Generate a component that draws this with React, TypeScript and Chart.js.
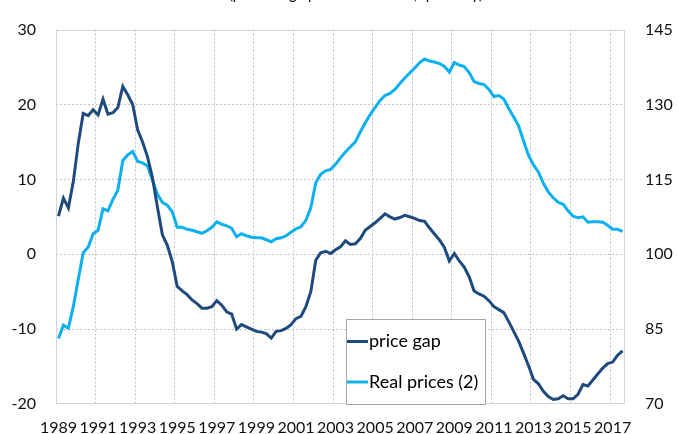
import React, { useEffect, useRef } from 'react';
import { Chart, registerables } from 'chart.js';

Chart.register(...registerables);

const startYear = 1989;
const quarterCount = 115;
const categories: string[] = Array.from({ length: quarterCount }, (_, i) => `${startYear + Math.floor(i / 4)}Q${(i % 4) + 1}`);
const xTickLabels = ['1989', '1991', '1993', '1995', '1997', '1999', '2001', '2003', '2005', '2007', '2009', '2011', '2013', '2015', '2017'];
const seriesNames = ['price gap', 'Real prices (2)'];
const titleText = '(percentage points and index, quarterly)';

// price gap (left axis)
const priceGap = [
  5.1, 7.5, 6.2, 9.7, 14.8, 18.8, 18.5, 19.3, 18.6, 20.7,
  18.7, 18.9, 19.6, 22.4, 21.3, 20.0, 16.6, 15.0, 13.0, 10.2,
  6.3, 2.6, 1.2, -1.0, -4.3, -4.9, -5.4, -6.1, -6.6, -7.2,
  -7.2, -7.0, -6.2, -6.8, -7.7, -8.0, -10.0, -9.4, -9.7, -10.0,
  -10.3, -10.4, -10.6, -11.2, -10.3, -10.2, -9.9, -9.4, -8.6, -8.3,
  -7.0, -5.0, -0.8, 0.2, 0.4, 0.1, 0.6, 1.0, 1.8, 1.3,
  1.4, 2.1, 3.2, 3.7, 4.2, 4.8, 5.4, 5.0, 4.7, 4.9,
  5.2, 5.0, 4.8, 4.5, 4.4, 3.5, 2.7, 1.9, 0.9, -0.9,
  0.1, -0.9, -1.7, -3.0, -4.9, -5.3, -5.6, -6.2, -7.0, -7.4,
  -7.8, -9.0, -10.3, -11.6, -13.2, -14.9, -16.7, -17.3, -18.3, -19.0,
  -19.4, -19.3, -18.9, -19.3, -19.3, -18.7, -17.4, -17.6, -16.8, -16.0,
  -15.2, -14.6, -14.4, -13.5, -12.9,
];

// Real prices (right axis)
const realPrices = [
  83.1, 85.8, 85.2, 89.5, 95.0, 100.3, 101.4, 104.1, 104.8, 109.1,
  108.7, 111.0, 112.8, 118.8, 119.9, 120.6, 118.6, 118.3, 117.7, 114.8,
  112.0, 110.4, 109.8, 108.5, 105.4, 105.4, 105.0, 104.8, 104.5, 104.2,
  104.7, 105.4, 106.5, 106.0, 105.7, 105.2, 103.5, 104.1, 103.7, 103.4,
  103.3, 103.3, 102.9, 102.5, 103.1, 103.3, 103.7, 104.4, 105.1, 105.5,
  106.8, 109.3, 114.3, 116.0, 116.7, 117.0, 118.0, 119.3, 120.5, 121.5,
  122.5, 124.5, 126.3, 128.0, 129.4, 130.8, 131.8, 132.2, 133.0, 134.2,
  135.3, 136.3, 137.3, 138.4, 139.1, 138.7, 138.5, 138.2, 137.6, 136.5,
  138.4, 137.9, 137.6, 136.4, 134.6, 134.2, 134.0, 133.0, 131.6, 131.8,
  131.1, 129.2, 127.5, 125.7, 122.7, 119.8, 117.9, 116.5, 114.2, 112.5,
  111.3, 110.4, 110.0, 108.7, 107.6, 107.3, 107.5, 106.4, 106.5, 106.5,
  106.4, 105.8, 105.0, 105.0, 104.6,
];

const leftMin = -20, leftMax = 30, leftStep = 10;
const rightMin = 70, rightMax = 145, rightStep = 15;

const darkBlue = '#1f4a7e';
const lightBlue = '#0db0ef';
const FONT = 'Lato, "Open Sans", sans-serif';

const framePlugin = {
  id: 'frame',
  beforeDatasetsDraw(chart: any) {
    const { ctx, chartArea: a } = chart;
    ctx.save();
    ctx.strokeStyle = '#d4d4d4';
    ctx.lineWidth = 1;
    ctx.strokeRect(Math.round(a.left) + 0.5, Math.round(a.top) + 0.5, Math.round(a.right - a.left) - 1, Math.round(a.bottom - a.top) - 1);
    ctx.restore();
  },
};

const titlePlugin = {
  id: 'cutTitle',
  afterDraw(chart: any) {
    const { ctx } = chart;
    ctx.save();
    ctx.font = `18px ${FONT}`;
    ctx.fillStyle = '#000';
    ctx.textAlign = 'center';
    ctx.textBaseline = 'alphabetic';
    ctx.fillText(titleText, 356, -1, 254);
    ctx.restore();
  },
};

const legendPlugin = {
  id: 'boxLegend',
  afterDatasetsDraw(chart: any) {
    const { ctx, chartArea: a } = chart;
    const x = Math.round(a.left + 290);
    const y = Math.round(a.top + 289);
    const w = 140, h = 86;
    ctx.save();
    ctx.fillStyle = '#ffffff';
    ctx.fillRect(x, y, w, h);
    ctx.strokeStyle = '#a6a6a6';
    ctx.lineWidth = 1;
    ctx.strokeRect(x + 0.5, y + 0.5, w - 1, h - 1);
    const rows = [22.5, 63];
    chart.data.datasets.forEach((ds: any, i: number) => {
      const cy = y + rows[i];
      ctx.strokeStyle = ds.borderColor;
      ctx.lineWidth = 3;
      ctx.beginPath();
      ctx.moveTo(x + 1, cy);
      ctx.lineTo(x + 22, cy);
      ctx.stroke();
      ctx.fillStyle = '#000';
      ctx.font = `18px ${FONT}`;
      ctx.textAlign = 'left';
      ctx.textBaseline = 'middle';
      ctx.fillText(ds.label, x + 23, cy);
    });
    ctx.restore();
  },
};

export default function App() {
  const ref = useRef<HTMLCanvasElement | null>(null);
  useEffect(() => {
    if (!ref.current) return;
    const chart = new Chart(ref.current, {
      type: 'line',
      data: {
        labels: categories,
        datasets: [
          {
            label: seriesNames[0],
            data: priceGap,
            borderColor: darkBlue,
            backgroundColor: darkBlue,
            borderWidth: 3,
            pointRadius: 0,
            tension: 0,
            yAxisID: 'y',
          },
          {
            label: seriesNames[1],
            data: realPrices,
            borderColor: lightBlue,
            backgroundColor: lightBlue,
            borderWidth: 3,
            pointRadius: 0,
            tension: 0,
            yAxisID: 'y1',
          },
        ],
      },
      options: {
        responsive: false,
        animation: false,
        layout: { padding: { top: 19, left: 0, right: 0, bottom: 0 } },
        plugins: { legend: { display: false }, tooltip: { enabled: false }, title: { display: false } },
        scales: {
          x: {
            type: 'category',
            offset: true,
            grid: {
              offset: true,
              drawTicks: false,
              lineWidth: 1,
              color: (c: any) => (c.index % 8 === 0 && c.index > 0 && c.index < quarterCount ? '#c4c4c4' : 'rgba(0,0,0,0)'),
            },
            border: { display: false, dash: [2, 2] },
            ticks: {
              autoSkip: false,
              maxRotation: 0,
              minRotation: 0,
              padding: 14,
              color: '#111',
              font: { family: FONT, size: 16 },
              callback: (_v: any, i: number) => (i % 8 === 0 ? xTickLabels[i / 8] ?? '' : ''),
            },
            afterFit: (s: any) => { s.height = 30; },
          },
          y: {
            position: 'left',
            min: leftMin,
            max: leftMax,
            grid: {
              drawTicks: false,
              color: (c: any) => (c.tick && (c.tick.value === leftMin || c.tick.value === leftMax) ? 'rgba(0,0,0,0)' : '#c4c4c4'),
            },
            border: { display: false, dash: [2, 2] },
            ticks: { stepSize: leftStep, padding: 20, color: '#111', font: { family: FONT, size: 16 } },
            afterFit: (s: any) => { s.width = 56; },
          },
          y1: {
            position: 'right',
            min: rightMin,
            max: rightMax,
            grid: { drawOnChartArea: false, drawTicks: false },
            border: { display: false },
            ticks: { stepSize: rightStep, padding: 20, color: '#111', font: { family: FONT, size: 16 } },
            afterFit: (s: any) => { s.width = 53; },
          },
        },
      },
      plugins: [framePlugin, legendPlugin, titlePlugin],
    } as any);
    return () => chart.destroy();
  }, []);
  return (
    <div style={{ position: 'fixed', left: 0, top: 0, width: 678, height: 434, background: '#fff' }}>
      <canvas ref={ref} width={678} height={434} style={{ display: 'block' }} />
    </div>
  );
}
